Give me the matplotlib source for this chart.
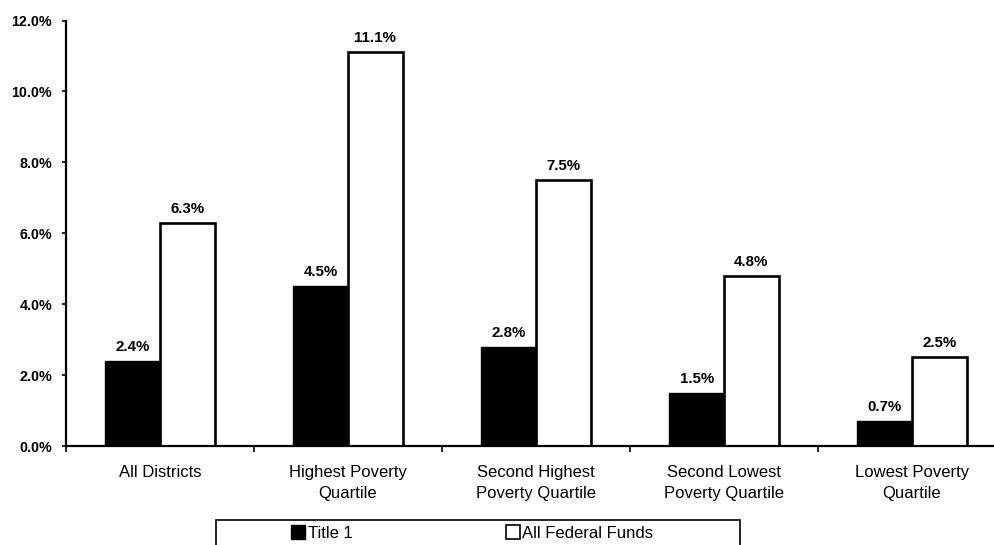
import matplotlib
matplotlib.use("Agg")
import matplotlib.pyplot as plt
from matplotlib.patches import Patch, Rectangle
import numpy as np

plt.rcParams['font.family'] = ['Liberation Sans', 'DejaVu Sans']

categories = ["All Districts", "Highest Poverty\nQuartile", "Second Highest\nPoverty Quartile",
              "Second Lowest\nPoverty Quartile", "Lowest Poverty\nQuartile"]
title1 = [2.4, 4.5, 2.8, 1.5, 0.7]
federal = [6.3, 11.1, 7.5, 4.8, 2.5]
series_names = ["Title 1", "All Federal Funds"]
y_ticks = [0, 2, 4, 6, 8, 10, 12]

W, H = 994, 545
fig = plt.figure(figsize=(W / 100, H / 100), dpi=100)
# axes run a little past the right edge of the canvas
ax = fig.add_axes([66 / W, (H - 446) / H, (1006 - 66) / W, (446 - 20.5) / H])

x = np.arange(len(categories))
bw = 0.29
b1 = ax.bar(x - bw / 2, title1, bw, color="black", edgecolor="black", linewidth=1.0)
b2 = ax.bar(x + bw / 2, federal, bw, color="white", edgecolor="black", linewidth=1.9)

for bars, vals in ((b1, title1), (b2, federal)):
    for r, v in zip(bars, vals):
        ax.annotate(f"{v:.1f}%", (r.get_x() + r.get_width() / 2, v),
                    xytext=(0, 5), textcoords="offset points",
                    ha="center", va="bottom", fontsize=10.8, fontweight="bold")

ax.set_xlim(-0.5, len(categories) - 0.5)
ax.set_ylim(0, 12)
ax.set_yticks(y_ticks)
ax.set_yticklabels([f"{t:.1f}%" for t in y_ticks], fontsize=10.3, fontweight="bold")
ax.tick_params(axis="y", direction="out", length=3, width=1.2, pad=7)

ax.set_xticks(x)
ax.set_xticklabels(categories, fontsize=12, linespacing=1.45)
ax.tick_params(axis="x", which="major", length=0, pad=14)
ax.set_xticks(np.arange(-0.5, len(categories) + 0.5, 1.0), minor=True)
ax.tick_params(axis="x", which="minor", direction="out", length=4, width=1.2)

for s in ("top", "right"):
    ax.spines[s].set_visible(False)
for s in ("left", "bottom"):
    ax.spines[s].set_linewidth(1.6)

# legend frame, open at the bottom of the canvas
fig.patches.append(Rectangle((216 / W, -0.05), (740 - 216) / W, (H - 520) / H + 0.05,
                             transform=fig.transFigure, facecolor="white",
                             edgecolor="black", linewidth=1.2))
handles = [Patch(facecolor="black", edgecolor="black"),
           Patch(facecolor="white", edgecolor="black", linewidth=1.2)]
fig.legend(handles, series_names, loc="center left",
           bbox_to_anchor=(291 / W, (H - 533) / H), ncol=2, frameon=False,
           fontsize=12, handlelength=0.85, handleheight=0.85, handletextpad=0.15,
           columnspacing=9.2, borderpad=0, borderaxespad=0)

fig.savefig("out.png", dpi=100)
